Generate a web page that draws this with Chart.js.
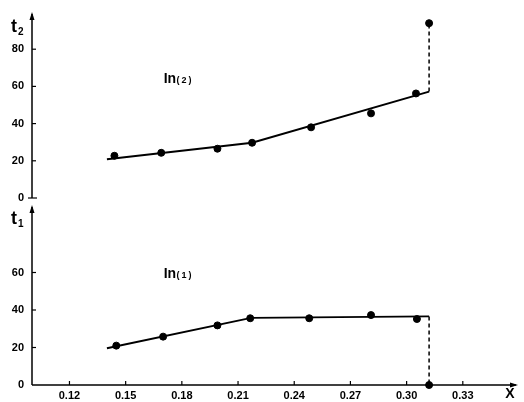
<!DOCTYPE html>
<html>
<head>
<meta charset="utf-8">
<script src="https://cdn.jsdelivr.net/npm/chart.js@4.4.1/dist/chart.umd.min.js"></script>
<style>
  html, body { margin: 0; padding: 0; background: #fff; }
  #wrap { position: relative; width: 524px; height: 402px; }
  canvas { position: absolute; left: 0; }
  #top { top: 0; }
  #bottom { top: 200px; }
</style>
</head>
<body>
<div id="wrap">
  <canvas id="top" width="524" height="203"></canvas>
  <canvas id="bottom" width="524" height="202"></canvas>
</div>
<script>
const xTicks = [0.12, 0.15, 0.18, 0.21, 0.24, 0.27, 0.30, 0.33];
const t2Ticks = [0, 20, 40, 60, 80];
const t1Ticks = [0, 20, 40, 60];

// measured points, upper panel In(2)
const x2 = [0.144, 0.169, 0.199, 0.2175, 0.249, 0.281, 0.305, 0.312];
const t2 = [22.7, 24.3, 26.5, 29.7, 38, 45.5, 56.2, 94];
// fitted segments, upper panel
const x2Fit = [0.14, 0.2175, 0.312];
const t2Fit = [20.8, 29.7, 57.2];
const x2Jump = [0.312, 0.312];
const t2Jump = [57.2, 94];

// measured points, lower panel In(1)
const x1 = [0.145, 0.170, 0.199, 0.2165, 0.248, 0.281, 0.3055, 0.312];
const t1 = [21, 25.8, 31.8, 35.6, 35.6, 37.3, 35.2, 0];
// fitted segments, lower panel
const x1Fit = [0.14, 0.217, 0.312];
const t1Fit = [19.6, 35.8, 36.6];
const x1Jump = [0.312, 0.312];
const t1Jump = [36.6, 0];

Chart.defaults.font.family = "'Liberation Sans', Arial, sans-serif";
Chart.defaults.font.size = 11;
Chart.defaults.font.weight = 'bold';
Chart.defaults.color = '#000';

const pts = (xs, ys) => xs.map((x, i) => ({ x: x, y: ys[i] }));

function arrowHead(ctx, x, y, dir) {
  ctx.beginPath();
  if (dir === 'up') {
    ctx.moveTo(x, y);
    ctx.lineTo(x - 2.5, y + 8);
    ctx.lineTo(x + 2.5, y + 8);
  } else {
    ctx.moveTo(x, y);
    ctx.lineTo(x - 8, y - 2.5);
    ctx.lineTo(x - 8, y + 2.5);
  }
  ctx.closePath();
  ctx.fill();
}

const axesPlugin = {
  id: 'axes',
  afterDatasetsDraw(chart, args, opts) {
    const ctx = chart.ctx;
    const xs = chart.scales.x, ys = chart.scales.y;
    const area = chart.chartArea;
    const left = area.left;
    const y0 = ys.getPixelForValue(0);
    ctx.save();
    ctx.strokeStyle = '#000';
    ctx.fillStyle = '#000';
    ctx.lineWidth = 1.5;

    // vertical axis with arrow
    ctx.beginPath();
    ctx.moveTo(left, y0);
    ctx.lineTo(left, area.top + 2);
    ctx.stroke();
    arrowHead(ctx, left, area.top, 'up');

    // y tick marks point inward
    ctx.lineWidth = 1.2;
    ys.ticks.forEach(t => {
      if (t.value === 0) return;
      const py = ys.getPixelForValue(t.value);
      ctx.beginPath();
      ctx.moveTo(left, py);
      ctx.lineTo(left + 4, py);
      ctx.stroke();
    });

    if (opts.showX) {
      ctx.lineWidth = 1.5;
      ctx.beginPath();
      ctx.moveTo(left, y0);
      ctx.lineTo(area.right - 3, y0);
      ctx.stroke();
      arrowHead(ctx, area.right - 1, y0, 'right');
      ctx.lineWidth = 1.2;
      xs.ticks.forEach(t => {
        const px = xs.getPixelForValue(t.value);
        ctx.beginPath();
        ctx.moveTo(px, y0);
        ctx.lineTo(px, y0 - 4);
        ctx.stroke();
      });
      ctx.font = "bold 14px 'Liberation Sans', Arial, sans-serif";
      ctx.textAlign = 'center';
      ctx.textBaseline = 'middle';
      ctx.fillText(opts.xName, area.right - 9, y0 + 9);
    } else {
      ctx.beginPath();
      ctx.moveTo(left - 4, y0);
      ctx.lineTo(left + 5, y0);
      ctx.stroke();
    }

    // axis name with subscript
    ctx.textAlign = 'left';
    ctx.textBaseline = 'alphabetic';
    ctx.font = "bold 18px 'Liberation Sans', Arial, sans-serif";
    ctx.fillText('t', opts.nameX, opts.nameY);
    ctx.font = "bold 10px 'Liberation Sans', Arial, sans-serif";
    ctx.fillText(opts.nameSub, opts.nameX + 7, opts.nameY + 3);

    // curve label In(n)
    const lx = xs.getPixelForValue(opts.labelAt[0]);
    const ly = ys.getPixelForValue(opts.labelAt[1]);
    ctx.font = "bold 14px 'Liberation Sans', Arial, sans-serif";
    ctx.textBaseline = 'middle';
    ctx.fillText('In', lx, ly);
    const w = ctx.measureText('In').width;
    ctx.font = "bold 9px 'Liberation Sans', Arial, sans-serif";
    ctx.letterSpacing = '2px';
    ctx.fillText(opts.labelSub, lx + w + 0.5, ly + 1.5);
    ctx.restore();
  }
};

function makePanel(id, cfg) {
  return new Chart(document.getElementById(id), {
    type: 'scatter',
    data: {
      datasets: [
        {
          data: pts(cfg.fitX, cfg.fitY),
          showLine: true,
          borderColor: '#000',
          borderWidth: 2,
          pointRadius: 0,
          clip: false
        },
        {
          data: pts(cfg.jumpX, cfg.jumpY),
          showLine: true,
          borderColor: '#000',
          borderWidth: 1.5,
          borderDash: [4, 3],
          pointRadius: 0,
          clip: false
        },
        {
          data: pts(cfg.ptX, cfg.ptY),
          showLine: false,
          backgroundColor: '#000',
          borderColor: '#000',
          pointRadius: 3.5,
          clip: false
        }
      ]
    },
    options: {
      responsive: false,
      animation: false,
      events: [],
      layout: { padding: cfg.padding },
      plugins: {
        legend: { display: false },
        tooltip: { enabled: false },
        axes: cfg.axes
      },
      scales: {
        x: {
          type: 'linear',
          min: 0.10,
          max: 0.36,
          display: cfg.showX,
          border: { display: false },
          grid: { display: false, drawTicks: false },
          afterBuildTicks: s => { s.ticks = xTicks.map(v => ({ value: v })); },
          afterFit: s => {
            if (cfg.showX) s.height = 17;
            s.paddingLeft = 0;
            s.paddingRight = 0;
          },
          ticks: {
            padding: 4,
            maxRotation: 0,
            autoSkip: false,
            callback: v => v.toFixed(2)
          }
        },
        y: {
          type: 'linear',
          min: 0,
          max: cfg.yMax,
          border: { display: false },
          grid: { display: false, drawTicks: false },
          afterBuildTicks: s => { s.ticks = cfg.yTicks.map(v => ({ value: v })); },
          afterFit: s => {
            s.width = 32;
            s.paddingTop = 0;
            s.paddingBottom = 0;
          },
          ticks: { padding: 8 }
        }
      }
    },
    plugins: [axesPlugin]
  });
}

makePanel('top', {
  fitX: x2Fit, fitY: t2Fit,
  jumpX: x2Jump, jumpY: t2Jump,
  ptX: x2, ptY: t2,
  yMax: 100,
  yTicks: t2Ticks,
  showX: false,
  padding: { top: 12, bottom: 0, left: 0, right: 1 },
  axes: { showX: false, nameX: 11, nameY: 32, nameSub: '2', labelAt: [0.1703, 64], labelSub: '(2)' }
});

makePanel('bottom', {
  fitX: x1Fit, fitY: t1Fit,
  jumpX: x1Jump, jumpY: t1Jump,
  ptX: x1, ptY: t1,
  yMax: 96,
  yTicks: t1Ticks,
  showX: true,
  padding: { top: 5, bottom: 0, left: 0, right: 1 },
  axes: { showX: true, xName: 'X', nameX: 11, nameY: 24, nameSub: '1', labelAt: [0.1703, 59], labelSub: '(1)' }
});
</script>
</body>
</html>
